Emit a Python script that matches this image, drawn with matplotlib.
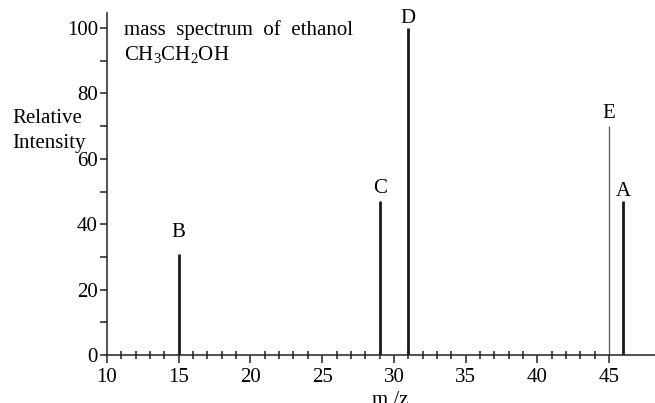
import matplotlib
matplotlib.use("Agg")
import matplotlib.pyplot as plt

plt.rcParams['font.family'] = ['Liberation Serif', 'DejaVu Serif']
plt.rcParams['mathtext.default'] = 'regular'

# peaks of the ethanol spectrum
peak_labels = ['B', 'C', 'D', 'E', 'A']
peak_mz = [15, 29, 31, 45, 46]
peak_intensity = [31, 47, 100, 70, 47]

x_major = [10, 15, 20, 25, 30, 35, 40, 45]
x_minor = [n for n in range(11, 45) if n % 5 != 0]
y_major = [0, 20, 40, 60, 80, 100]
y_minor = [10, 30, 50, 70, 90]

# gap between the top of a peak and its letter, in points
label_gap = [15, 9, 7, 9, 7]
# E is drawn as a thin grey line, the rest thick black
line_width = [2.0, 2.0, 2.0, 0.9, 2.0]
line_color = ['#1a1a1a', '#1a1a1a', '#1a1a1a', '#555555', '#1a1a1a']

W, H = 655, 403
fig = plt.figure(figsize=(W / 100, H / 100), dpi=100)
ax = fig.add_axes([107 / W, 48 / H, 548 / W, 342 / H])

ax.vlines(peak_mz, 0, peak_intensity, linewidths=line_width, colors=line_color)
for lab, mz, inten, gap in zip(peak_labels, peak_mz, peak_intensity, label_gap):
    ax.annotate(lab, (mz, inten), xytext=(0, gap), textcoords='offset points',
                ha='center', va='center', fontsize=15)

ax.set_xlim(10, 48.2)
ax.set_ylim(0, 104.6)

for side in ['top', 'right']:
    ax.spines[side].set_visible(False)
for side in ['left', 'bottom']:
    ax.spines[side].set_linewidth(1.1)
    ax.spines[side].set_color('#222222')

ax.set_xticks(x_major)
ax.set_xticks(x_minor, minor=True)
ax.set_yticks(y_major)
ax.set_yticks(y_minor, minor=True)

ax.tick_params(axis='x', which='major', direction='out', length=6, width=1.1,
               color='#222222', labelsize=15, pad=3)
ax.tick_params(axis='x', which='minor', direction='inout', length=6, width=1.1,
               color='#222222')
ax.tick_params(axis='y', which='both', direction='out', length=5, width=1.1,
               color='#222222', labelsize=15, pad=1.5)

fig.text(124 / W, 1 - 35 / H, 'mass  spectrum  of  ethanol', fontsize=15, va='baseline')
fig.text(124 / W, 1 - 60 / H, r'CH$_3$CH$_2$OH', fontsize=15, va='baseline')
fig.text(12 / W, 1 - 123 / H, 'Relative', fontsize=15, va='baseline')
fig.text(12 / W, 1 - 148 / H, 'Intensity', fontsize=15, va='baseline')
fig.text(372 / W, 1 - 405 / H, 'm /z', fontsize=15, va='baseline')

fig.savefig('out.png', dpi=100)
